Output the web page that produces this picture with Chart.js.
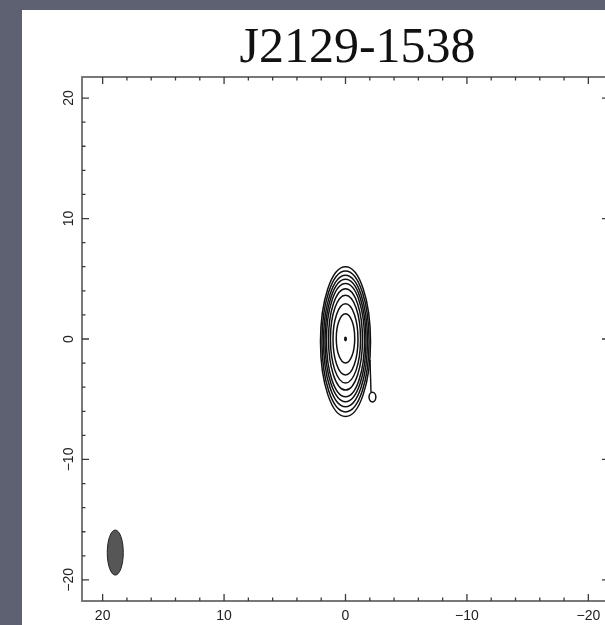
<!DOCTYPE html>
<html>
<head>
<meta charset="utf-8">
<script src="https://cdn.jsdelivr.net/npm/chart.js@4.4.1/dist/chart.umd.min.js"></script>
<style>
  html, body { margin: 0; padding: 0; width: 605px; height: 625px; overflow: hidden; background: #5d6171; }
  #wrap { position: absolute; left: 22px; top: 10px; width: 671px; height: 615px; background: #ffffff; }
  canvas { display: block; }
</style>
</head>
<body>
<div id="wrap"><canvas id="map" width="671" height="615"></canvas></div>
<script>
// Source name and plot window (relative offsets, arcsec)
const sourceName = 'J2129-1538';
const axisLimit = 21.7;
const tickStep = 2;
const labelStep = 10;

// Contour levels of the source, outermost first: centre and semi-axes
const contourCx = [0, 0, 0, 0, 0, 0, 0, 0, 0, 0];
const contourCy = [-0.22, -0.2, -0.17, -0.12, -0.1, -0.03, -0.01, -0.03, 0.05, 0];
const contourRx = [2.06, 1.94, 1.81, 1.69, 1.57, 1.40, 1.24, 1.03, 0.76, 0.06];
const contourRy = [6.22, 5.85, 5.46, 5.08, 4.70, 4.21, 3.64, 2.96, 2.05, 0.14];

// Faint extension to the south-west of the core
const tailX = [-2.02, -2.1];
const tailY = [-1.74, -4.42];
const knotCx = [-2.22];
const knotCy = [-4.82];
const knotRx = [0.28];
const knotRy = [0.40];

// Restoring beam drawn in the lower-left corner
const beamCx = [18.96];
const beamCy = [-17.73];
const beamRx = [0.66];
const beamRy = [1.87];

function tickLabel(v) {
  if (Math.abs(v % labelStep) > 1e-9) return '';
  return v < 0 ? '\u2212' + Math.abs(v) : String(v);
}

function ellipseOnScales(ctx, xs, ys, cx, cy, rx, ry) {
  const px = xs.getPixelForValue(cx);
  const py = ys.getPixelForValue(cy);
  const prx = Math.abs(xs.getPixelForValue(cx + rx) - px);
  const pry = Math.abs(ys.getPixelForValue(cy + ry) - py);
  ctx.beginPath();
  ctx.ellipse(px, py, prx, pry, 0, 0, Math.PI * 2);
}

const mapPlugin = {
  id: 'mapPlugin',
  afterDatasetsDraw(chart) {
    const ctx = chart.ctx;
    const xs = chart.scales.x, ys = chart.scales.y;
    ctx.save();
    // contours
    ctx.strokeStyle = '#111111';
    ctx.lineWidth = 1.5;
    for (let i = 0; i < contourCx.length; i++) {
      ellipseOnScales(ctx, xs, ys, contourCx[i], contourCy[i], contourRx[i], contourRy[i]);
      ctx.stroke();
      if (i === contourCx.length - 1) { ctx.fillStyle = '#111111'; ctx.fill(); }
    }
    for (let i = 0; i < knotCx.length; i++) {
      ellipseOnScales(ctx, xs, ys, knotCx[i], knotCy[i], knotRx[i], knotRy[i]);
      ctx.stroke();
    }
    // beam
    for (let i = 0; i < beamCx.length; i++) {
      ellipseOnScales(ctx, xs, ys, beamCx[i], beamCy[i], beamRx[i], beamRy[i]);
      ctx.fillStyle = '#565656';
      ctx.fill();
      ctx.strokeStyle = '#222222';
      ctx.lineWidth = 1;
      ctx.stroke();
    }
    ctx.restore();
  },
  afterDraw(chart) {
    const ctx = chart.ctx;
    const a = chart.chartArea;
    const xs = chart.scales.x, ys = chart.scales.y;
    ctx.save();
    // frame
    ctx.strokeStyle = '#6a6a6a';
    ctx.lineWidth = 1.8;
    ctx.strokeRect(a.left, a.top, a.right - a.left, a.bottom - a.top);
    // inward tick marks
    ctx.strokeStyle = '#3a3a3a';
    ctx.lineWidth = 1.3;
    ctx.beginPath();
    xs.ticks.forEach(t => {
      const len = Math.abs(t.value % labelStep) < 1e-9 ? 7 : 3.5;
      const p = xs.getPixelForValue(t.value);
      ctx.moveTo(p, a.bottom); ctx.lineTo(p, a.bottom - len);
      ctx.moveTo(p, a.top); ctx.lineTo(p, a.top + len);
    });
    ys.ticks.forEach(t => {
      const len = Math.abs(t.value % labelStep) < 1e-9 ? 7 : 3.5;
      const p = ys.getPixelForValue(t.value);
      ctx.moveTo(a.left, p); ctx.lineTo(a.left + len, p);
      ctx.moveTo(a.right, p); ctx.lineTo(a.right - len, p);
    });
    ctx.stroke();
    ctx.restore();
  }
};

const tickFont = { family: 'Liberation Sans', size: 14 };

new Chart(document.getElementById('map'), {
  type: 'scatter',
  data: {
    datasets: [{
      data: tailX.map((x, i) => ({ x: x, y: tailY[i] })),
      showLine: true,
      pointRadius: 0,
      borderColor: '#111111',
      borderWidth: 1.4
    }]
  },
  options: {
    responsive: false,
    devicePixelRatio: 1,
    animation: false,
    layout: { padding: 0 },
    plugins: {
      legend: { display: false },
      tooltip: { enabled: false },
      title: {
        display: true,
        text: sourceName,
        color: '#111111',
        font: { family: 'Liberation Serif', size: 50, weight: 'normal', lineHeight: 1.1 },
        padding: { top: 11.5, bottom: 0.5 }
      }
    },
    scales: {
      x: {
        type: 'linear',
        position: 'bottom',
        min: -axisLimit,
        max: axisLimit,
        reverse: true,
        grid: { display: false, drawTicks: false },
        border: { display: false },
        ticks: {
          stepSize: tickStep,
          includeBounds: false,
          autoSkip: false,
          maxRotation: 0,
          padding: 6.5,
          color: '#222222',
          font: tickFont,
          callback: v => tickLabel(v)
        },
        afterFit: s => { s.height = 24; }
      },
      y: {
        type: 'linear',
        position: 'left',
        min: -21.75,
        max: 21.75,
        grid: { display: false, drawTicks: false },
        border: { display: false },
        ticks: {
          stepSize: tickStep,
          includeBounds: false,
          autoSkip: false,
          minRotation: 90,
          maxRotation: 90,
          crossAlign: 'center',
          padding: 1,
          color: '#222222',
          font: tickFont,
          callback: v => tickLabel(v)
        },
        afterFit: s => { s.width = 60; }
      },
      yRight: {
        type: 'linear',
        position: 'right',
        min: -21.75,
        max: 21.75,
        grid: { display: false, drawTicks: false },
        border: { display: false },
        ticks: { display: false },
        afterFit: s => { s.width = 84; }
      }
    }
  },
  plugins: [mapPlugin]
});
</script>
</body>
</html>
